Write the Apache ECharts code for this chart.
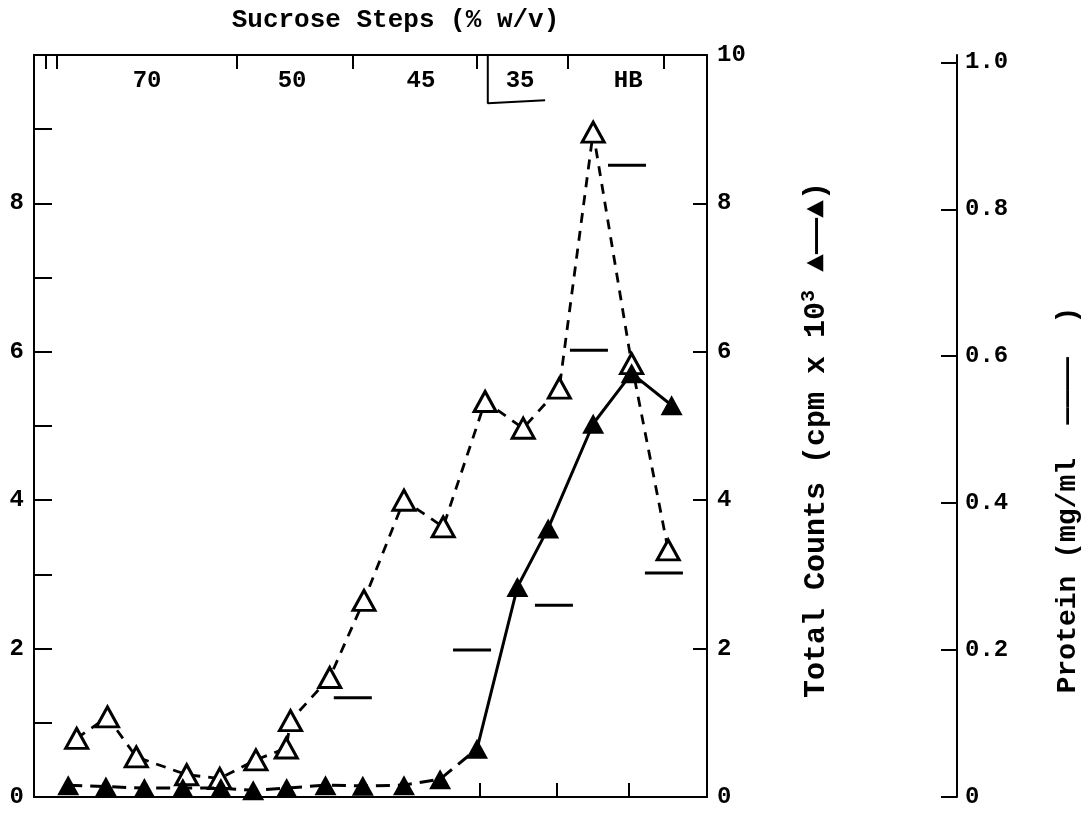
<!DOCTYPE html>
<html>
<head>
<meta charset="utf-8">
<script src="https://cdn.jsdelivr.net/npm/echarts@6/dist/echarts.min.js"></script>
<style>html,body{margin:0;padding:0;background:#fff;overflow:hidden;}#c{width:1081px;height:816px;}</style>
</head>
<body>
<div id="c"></div>
<script>
// Fraction position (x, arbitrary fraction units) and values
const openX   = [1.11, 1.91, 2.66, 3.97, 4.83, 5.77, 6.56, 6.67, 7.69, 8.58, 9.62, 10.64, 11.73, 12.72, 13.66, 14.54, 15.54, 16.49];
const openY   = [0.79, 1.08, 0.54, 0.30, 0.25, 0.50, 0.66, 1.03, 1.61, 2.65, 4.00, 3.64, 5.33, 4.97, 5.51, 8.96, 5.84, 3.33];
const filledX = [0.89, 1.87, 2.87, 3.87, 4.86, 5.70, 6.57, 7.58, 8.55, 9.62, 10.56, 11.52, 12.57, 13.37, 14.54, 15.54, 16.58];
const filledY = [0.16, 0.14, 0.12, 0.12, 0.12, 0.09, 0.12, 0.16, 0.15, 0.16, 0.24, 0.65, 2.83, 3.62, 5.03, 5.71, 5.28];
const proteinX = [8.29, 11.39, 13.52, 14.43, 15.42, 16.38];
const proteinY = [0.135, 0.20, 0.261, 0.608, 0.86, 0.305];
// sucrose step boundaries (top ticks), step labels and their positions
const stepTicks = [0.31, 0.60, 5.28, 8.29, 11.52, 13.89, 16.38];
const stepNames = ['70', '50', '45', '35', 'HB'];
const stepLabelPos = [2.94, 6.71, 10.06, 12.64, 15.45];
const bottomTicks = [11.6, 13.6, 15.47];
// bracket drawn under the "35" label
const bracketX = [11.8, 11.8, 13.29];
const bracketY = [10, 9.35, 9.39];
const proteinTicks = [0, 0.2, 0.4, 0.6, 0.8, 1.0];

const FONT = "'Liberation Mono','DejaVu Sans Mono',monospace";
const zip = (a, b) => a.map((v, i) => [v, b[i]]);
const splitAt = 11;

const chart = echarts.init(document.getElementById('c'), null, {renderer: 'canvas', width: 1081, height: 816});
const axisLineStyle = {color: '#000', width: 2};
const lblStyle = {color: '#000', fontFamily: FONT, fontWeight: 'bold', fontSize: 24};

chart.setOption({
  backgroundColor: '#fff',
  animation: false,
  grid: {left: 34, width: 673, top: 55, height: 742, containLabel: false, outerBoundsMode: 'none'},
  xAxis: [
    {
      type: 'value', min: 0, max: 17.5, position: 'bottom',
      axisLine: {show: true, onZero: false, lineStyle: axisLineStyle},
      axisTick: {show: true, inside: true, length: 14, lineStyle: {width: 2, color: '#000'}, customValues: bottomTicks},
      axisLabel: {show: false},
      splitLine: {show: false}
    },
    {
      type: 'value', min: 0, max: 17.5, position: 'top',
      axisLine: {show: true, onZero: false, lineStyle: axisLineStyle},
      axisTick: {show: true, inside: true, length: 14, lineStyle: {width: 2, color: '#000'}, customValues: stepTicks},
      axisLabel: Object.assign({show: true, inside: true, margin: 14, customValues: stepLabelPos,
        formatter: function (v) { for (let i = 0; i < stepLabelPos.length; i++) { if (Math.abs(stepLabelPos[i] - v) < 1e-6) return stepNames[i]; } return ''; }
      }, lblStyle),
      splitLine: {show: false},
      name: 'Sucrose Steps (% w/v)', nameLocation: 'middle', nameGap: 22,
      nameTextStyle: {color: '#000', fontFamily: FONT, fontWeight: 'bold', fontSize: 26, padding: [0, 0, 0, 50]}
    }
  ],
  yAxis: [
    {
      type: 'value', min: 0, max: 10, interval: 1, position: 'left',
      axisLine: {show: true, onZero: false, lineStyle: axisLineStyle},
      axisTick: {show: true, inside: true, length: 18, lineStyle: {width: 2, color: '#000'}},
      axisLabel: Object.assign({margin: 10, formatter: function (v) { return (v % 2 === 0 && v < 10) ? String(v) : ''; }}, lblStyle),
      splitLine: {show: false}
    },
    {
      type: 'value', min: 0, max: 10, interval: 2, position: 'right',
      axisLine: {show: true, onZero: false, lineStyle: axisLineStyle},
      axisTick: {show: true, inside: true, length: 14, lineStyle: {width: 2, color: '#000'}},
      axisLabel: Object.assign({margin: 10}, lblStyle),
      splitLine: {show: false},
      name: '{a|Total Counts (cpm x 10}{s|3}{a| ▲——▲)}',
      nameLocation: 'middle', nameRotate: 90, nameGap: 92,
      nameTextStyle: {padding: [0, 28, 0, 0], rich: {
        a: {color: '#000', fontFamily: FONT, fontWeight: 'bold', fontSize: 30},
        s: {color: '#000', fontFamily: FONT, fontWeight: 'bold', fontSize: 20, verticalAlign: 'top', padding: [0, 0, 14, 0]}
      }}
    },
    {
      type: 'value', min: 0, max: 1.01, position: 'right', offset: 250,
      axisLine: {show: true, onZero: false, lineStyle: axisLineStyle},
      axisTick: {show: true, inside: true, length: 16, lineStyle: {width: 2, color: '#000'}, customValues: proteinTicks},
      axisLabel: Object.assign({margin: 8, customValues: proteinTicks, formatter: function (v) { return v === 0 ? '0' : v.toFixed(1); }}, lblStyle),
      splitLine: {show: false},
      name: 'Protein (mg/ml  ————  )',
      nameLocation: 'middle', nameRotate: 90, nameGap: 97,
      nameTextStyle: {color: '#000', fontFamily: FONT, fontWeight: 'bold', fontSize: 28, padding: [0, 148, 0, 0]}
    }
  ],
  series: [
    {
      type: 'line', name: 'open', data: zip(openX, openY), xAxisIndex: 0, yAxisIndex: 0,
      symbol: 'triangle', symbolSize: [22, 20], z: 3,
      itemStyle: {color: '#fff', borderColor: '#000', borderWidth: 3, opacity: 1},
      lineStyle: {color: '#000', width: 2.8, type: [10, 8]}
    },
    {
      type: 'line', name: 'filledLow', data: zip(filledX, filledY).slice(0, splitAt + 1),
      showSymbol: false, symbol: 'none', z: 4,
      lineStyle: {color: '#000', width: 3, type: [14, 8]}
    },
    {
      type: 'line', name: 'filledHigh', data: zip(filledX, filledY).slice(splitAt),
      showSymbol: false, symbol: 'none', z: 4,
      lineStyle: {color: '#000', width: 3, type: 'solid'}
    },
    {
      type: 'scatter', name: 'filled', data: zip(filledX, filledY),
      symbol: 'triangle', symbolSize: [22, 20], z: 5,
      itemStyle: {color: '#000', opacity: 1}
    },
    {
      type: 'scatter', name: 'protein', data: zip(proteinX, proteinY), yAxisIndex: 2,
      symbol: 'rect', symbolSize: [38, 3], z: 5,
      itemStyle: {color: '#000', opacity: 1}
    },
    {
      type: 'line', name: 'bracket', data: zip(bracketX, bracketY),
      symbol: 'none', z: 2,
      lineStyle: {color: '#000', width: 2}
    }
  ]
});
</script>
</body>
</html>
